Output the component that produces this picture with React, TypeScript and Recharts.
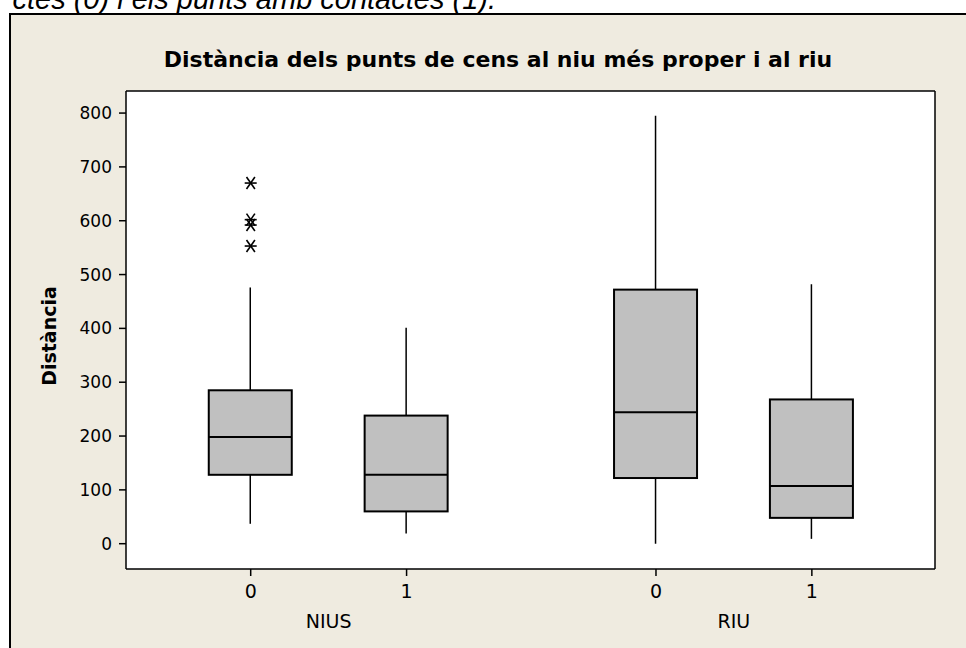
import { ComposedChart, Bar, Scatter, XAxis, YAxis, CartesianGrid, ReferenceLine } from "recharts";

// Diagrama de caixes: distància al niu (NIUS) i al riu (RIU), punts sense (0) i amb (1) contactes
const grups = ["NIUS", "RIU"];
const nivells = ["0", "1"];
const minims = [37, 19, 0, 9];
const quartils1 = [128, 60, 122, 48];
const medianes = [198, 128, 244, 107];
const quartils3 = [285, 238, 472, 268];
const maxims = [476, 401, 795, 482];
// valors atípics (només NIUS, 0)
const atipicsNius0 = [670, 602, 592, 553];
const yTicks = [0, 100, 200, 300, 400, 500, 600, 700, 800];

const SEP_GRUP = 2.6; // separació entre grups a l'eix x
const DOMINI_X: [number, number] = [-0.8, 4.39];
const DOMINI_Y: [number, number] = [-47, 841];
const FONT = "'DejaVu Sans', Verdana, sans-serif";

const caixes = minims.map((mn, i) => {
  const g = Math.floor(i / nivells.length);
  const l = i % nivells.length;
  return {
    x: g * SEP_GRUP + l,
    nivell: nivells[l],
    rang: [mn, maxims[i]],
    min: mn, q1: quartils1[i], med: medianes[i], q3: quartils3[i], max: maxims[i],
  };
});
const posicions = caixes.map(c => c.x);
const centresGrup = grups.map((_, g) => g * SEP_GRUP + (nivells.length - 1) / 2);
const atipics = atipicsNius0.map(v => ({ x: caixes[0].x, y: v }));

function Caixa(props: any) {
  const { x, y, width, height, payload } = props;
  if (!payload) return null;
  const top = Math.min(y, y + height);
  const h = Math.abs(height);
  const k = h / (payload.max - payload.min);
  const py = (v: number) => top + (payload.max - v) * k;
  const cx = x + width / 2;
  return (
    <g>
      <line x1={cx} x2={cx} y1={py(payload.max)} y2={py(payload.min)} stroke="#000" strokeWidth={1.5} />
      <rect x={x} y={py(payload.q3)} width={width} height={py(payload.q1) - py(payload.q3)}
        fill="#C0C0C0" stroke="#000" strokeWidth={2} />
      <line x1={x} x2={x + width} y1={py(payload.med)} y2={py(payload.med)} stroke="#000" strokeWidth={2} />
    </g>
  );
}

function Estrella(props: any) {
  const { cx, cy } = props;
  if (cx == null || cy == null) return null;
  const r = 6;
  return (
    <g stroke="#000" strokeWidth={1.6}>
      <line x1={cx - r} x2={cx + r} y1={cy} y2={cy} />
      <line x1={cx - r * 0.7} x2={cx + r * 0.7} y1={cy - r} y2={cy + r} />
      <line x1={cx - r * 0.7} x2={cx + r * 0.7} y1={cy + r} y2={cy - r} />
    </g>
  );
}

function EtiquetaY() {
  return (
    <text x={56} y={336} transform="rotate(-90 56 336)" textAnchor="middle"
      style={{ fontFamily: FONT, fontSize: 19, fontWeight: 700, fill: "#000" }}>
      Distància
    </text>
  );
}

export default function App() {
  return (
    <div style={{ position: "absolute", left: 0, top: 0, width: 966, height: 648, background: "#fff", overflow: "hidden" }}>
      <div style={{
        position: "absolute", right: 966 - 496, top: -15, whiteSpace: "nowrap",
        fontFamily: "'Liberation Sans', Arial, sans-serif", fontStyle: "italic", fontSize: 29, lineHeight: "29px", color: "#000",
      }}>
        ctes (0) i els punts amb contactes (1).
      </div>
      <div style={{
        position: "absolute", left: 9, top: 13, width: 1000, height: 700,
        background: "#EFEBE0", border: "2px solid #000", boxSizing: "border-box",
      }} />
      <div style={{
        position: "absolute", left: 0, width: 996, top: 49, textAlign: "center",
        fontFamily: FONT, fontWeight: 700, fontSize: 22, lineHeight: "22px", color: "#000",
      }}>
        Distància dels punts de cens al niu més proper i al riu
      </div>
      <div style={{ position: "absolute", left: 0, top: 0 }}>
        <ComposedChart width={966} height={648} data={caixes}
          margin={{ top: 91, right: 31, bottom: 9, left: 0 }}>
          <CartesianGrid horizontal={false} vertical={false} fill="#fff" />
          <XAxis dataKey="x" type="number" domain={DOMINI_X} ticks={posicions} interval={0}
            tickFormatter={(v: number) => caixes[posicions.indexOf(v)]?.nivell ?? ""}
            axisLine={{ stroke: "#000", strokeWidth: 1.5 }} tickLine={{ stroke: "#000", strokeWidth: 1.5 }}
            tickSize={7} tickMargin={9} height={30}
            tick={{ fontFamily: FONT, fontSize: 19, fill: "#000" }} />
          <XAxis xAxisId="grp" dataKey="x" type="number" domain={DOMINI_X} ticks={centresGrup} interval={0}
            tickFormatter={(v: number) => grups[centresGrup.indexOf(v)] ?? ""}
            axisLine={false} tickLine={false} tickSize={0} tickMargin={16} height={40}
            tick={{ fontFamily: FONT, fontSize: 19, fill: "#000" }} />
          <YAxis type="number" domain={DOMINI_Y} ticks={yTicks} interval={0} width={126}
            axisLine={{ stroke: "#000", strokeWidth: 1.5 }} tickLine={{ stroke: "#000", strokeWidth: 1.5 }}
            tickSize={7} tickMargin={7}
            tick={{ fontFamily: FONT, fontSize: 17, fill: "#000" }}
            label={<EtiquetaY />} />
          {/* vores superior i dreta del requadre */}
          <ReferenceLine y={DOMINI_Y[1]} stroke="#000" strokeWidth={1.5} />
          <ReferenceLine x={DOMINI_X[1]} stroke="#000" strokeWidth={1.5} />
          <Bar dataKey="rang" barSize={83} shape={<Caixa />} isAnimationActive={false} />
          <Scatter data={atipics} dataKey="y" shape={<Estrella />} isAnimationActive={false} />
        </ComposedChart>
      </div>
    </div>
  );
}
